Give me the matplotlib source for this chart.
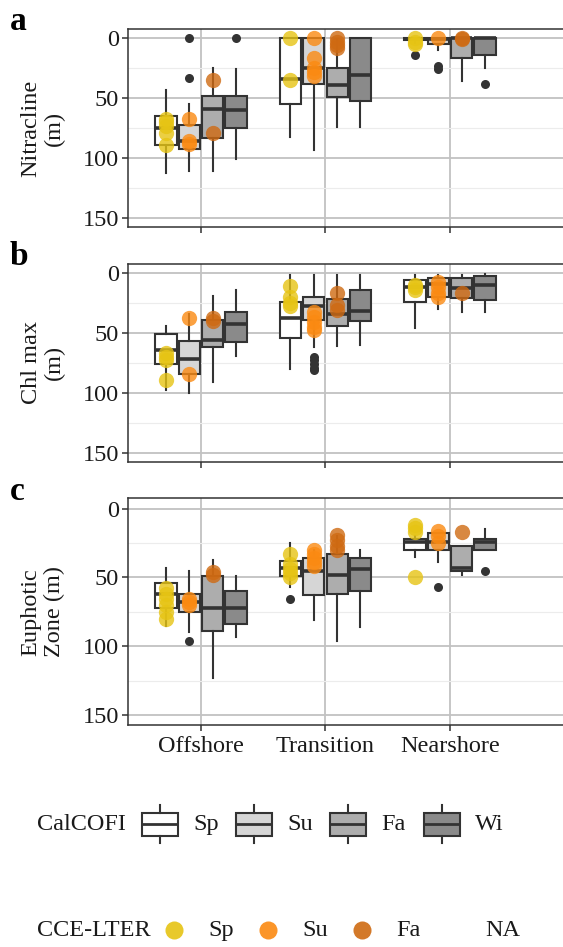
import matplotlib
matplotlib.use("Agg")
import matplotlib.pyplot as plt
from matplotlib.patches import Rectangle

plt.rcParams['font.family'] = ['Liberation Serif', 'DejaVu Serif']

# ---------------- data ----------------
zones = ["Offshore", "Transition", "Nearshore"]
seasons = ["Sp", "Su", "Fa", "Wi"]
cce_seasons = ["Sp", "Su", "Fa", "NA"]
box_fills = ["#ffffff", "#d6d6d6", "#adadad", "#8a8a8a"]
pt_colors = ["#e6c414", "#fb8a12", "#cf6a12", None]
ylabels = ["Nitracline\n(m)", "Chl max\n(m)", "Euphotic\nZone (m)"]
panel_letters = ["a", "b", "c"]

# Panel a: Nitracline  [zone][season] = (whislo, q1, med, q3, whishi)
a_box = [
    [(43, 65, 75, 89, 112), (55, 72, 86, 92, 111), (25, 48, 59, 83, 111), (26, 48, 60, 75, 101)],
    [(0, 0, 34, 55, 82), (0, 0, 25, 38, 93), (2, 25, 39, 49, 74), (0, 0, 31, 52, 74)],
    [(0, 0, 1, 2, 4), (0, 0, 1, 5, 10), (0, 0, 0, 17, 36), (0, 0, 0, 14, 25)],
]
a_fliers = [
    [[], [0, 33], [], [0]],
    [[], [], [], []],
    [[14], [23, 26], [], [38]],
]
a_pts_sp = [[67, 70, 73, 79, 89], [0, 35], [0, 3, 5]]
a_pts_su = [[67, 86, 88], [0, 17, 25, 28, 32], [0]]
a_pts_fa = [[35, 79], [0, 3, 6, 8], [0, 1]]

# Panel b: Chl max
b_box = [
    [(44, 51, 64, 76, 98), (34, 57, 72, 84, 100), (19, 39, 56, 62, 91), (14, 33, 43, 58, 69)],
    [(2, 24, 38, 54, 80), (2, 20, 28, 39, 62), (2, 22, 34, 44, 61), (2, 14, 32, 40, 60)],
    [(2, 6, 12, 24, 46), (2, 4, 9, 20, 30), (2, 4, 13, 21, 33), (1, 3, 10, 23, 33)],
]
b_fliers = [
    [[], [], [], []],
    [[], [70, 73, 76, 79, 81], [], []],
    [[], [], [], []],
]
b_pts_sp = [[67, 70, 73, 89], [11, 20, 25, 28], [10, 12, 14]]
b_pts_su = [[38, 84], [33, 37, 41, 45, 48], [8, 12, 17, 20]]
b_pts_fa = [[38, 40], [17, 27, 31], [17]]

# Panel c: Euphotic zone
c_box = [
    [(43, 54, 62, 72, 85), (45, 62, 68, 75, 90), (37, 49, 72, 89, 123), (49, 60, 72, 84, 93)],
    [(25, 38, 43, 49, 57), (30, 36, 45, 63, 81), (20, 33, 48, 62, 96), (30, 36, 44, 60, 86)],
    [(20, 22, 24, 30, 35), (18, 18, 24, 30, 39), (27, 27, 43, 45, 48), (15, 22, 24, 30, 30)],
]
c_fliers = [
    [[], [96], [], []],
    [[66], [], [], []],
    [[], [57], [], [45]],
]
c_pts_sp = [[58, 62, 66, 70, 75, 80], [33, 40, 44, 47, 50], [12, 14, 17, 50]]
c_pts_su = [[66, 68, 70], [30, 33, 36, 39, 42], [16, 20, 25]]
c_pts_fa = [[46, 48], [19, 23, 27, 30], [17]]

panels = [
    (a_box, a_fliers, [a_pts_sp, a_pts_su, a_pts_fa]),
    (b_box, b_fliers, [b_pts_sp, b_pts_su, b_pts_fa]),
    (c_box, c_fliers, [c_pts_sp, c_pts_su, c_pts_fa]),
]

# ---------------- layout ----------------
W, H = 563, 947
fig = plt.figure(figsize=(W / 100, H / 100), dpi=100)
FS = 17.5
DARK = "#333333"

panel_px = [(29.0, 227.3), (263.7, 461.7), (498.4, 725.3)]
LEFT = 127.5
UNIT = 124.5  # pixels per category


def px_axes(left, top, right, bottom):
    return fig.add_axes([left / W, 1 - bottom / H, (right - left) / W, (bottom - top) / H])


dodge = 0.75 / 4
for p, (boxes, fliers, pts) in enumerate(panels):
    top, bottom = panel_px[p]
    ax = px_axes(LEFT, top, W, bottom)

    stats, positions, fills = [], [], []
    for i in range(len(zones)):
        for j in range(len(seasons)):
            wlo, q1, med, q3, whi = boxes[i][j]
            stats.append(dict(whislo=wlo, q1=q1, med=med, q3=q3, whishi=whi,
                              fliers=fliers[i][j]))
            positions.append((i + 1) + (j - 1.5) * dodge)
            fills.append(box_fills[j])
    res = ax.bxp(stats, positions=positions, widths=0.17, patch_artist=True,
                 showfliers=True, showcaps=False, manage_ticks=False,
                 boxprops=dict(edgecolor=DARK, linewidth=1.5),
                 medianprops=dict(color=DARK, linewidth=2.6, solid_capstyle="butt"),
                 whiskerprops=dict(color=DARK, linewidth=1.5),
                 flierprops=dict(marker="o", markerfacecolor=DARK,
                                 markeredgecolor="none", markersize=6.5))
    for patch, fc in zip(res["boxes"], fills):
        patch.set_facecolor(fc)

    for j, season_pts in enumerate(pts):
        for i, vals in enumerate(season_pts):
            x = (i + 1) + (j - 1.5) * dodge
            ax.plot([x] * len(vals), vals, "o", color=pt_colors[j], alpha=0.8,
                    markersize=11, markeredgewidth=0, zorder=5)

    ax.set_xlim(0.41, 0.41 + (W - LEFT) / UNIT)
    ax.set_ylim(157.5, -7.5)
    ax.set_yticks([0, 50, 100, 150])
    ax.set_yticks([25, 75, 125], minor=True)
    ax.set_xticks([1, 2, 3])
    ax.set_xticks([], minor=True)
    ax.grid(True, which="major", color="#c2c2c2", linewidth=1.3)
    ax.grid(True, which="minor", axis="y", color="#ececec", linewidth=0.8)
    ax.set_axisbelow(True)
    for s in ["left", "top", "bottom"]:
        ax.spines[s].set_color(DARK)
        ax.spines[s].set_linewidth(1.1)
    ax.spines["right"].set_visible(False)
    ax.tick_params(which="major", length=4, width=1.1, color=DARK,
                   labelsize=FS, labelcolor="#1a1a1a", pad=2)
    ax.tick_params(axis="x", pad=4)
    ax.tick_params(which="minor", length=0)
    if p == 2:
        ax.set_xticklabels(zones)
    else:
        ax.set_xticklabels([])

    fig.text(43 / W, 1 - ((top + bottom) / 2) / H, ylabels[p], rotation=90,
             ha="center", va="center", multialignment="center", fontsize=FS,
             color="#1a1a1a", linespacing=1.15)
    fig.text(10 / W, 1 - (top - 7) / H, panel_letters[p], fontsize=24,
             fontweight="bold", ha="left", va="center")

# ---------------- legends ----------------
leg = fig.add_axes([0, 0, 1, 1])
leg.set_xlim(0, W)
leg.set_ylim(H, 0)
leg.axis("off")
leg.patch.set_alpha(0)

y1 = 824
leg.text(37, y1, "CalCOFI", fontsize=FS, ha="left", va="center", color="#1a1a1a")
for j, (lab, fc) in enumerate(zip(seasons, box_fills)):
    x0 = 142 + j * 94
    leg.add_patch(Rectangle((x0, y1 - 11.5), 36, 23, facecolor=fc, edgecolor=DARK, lw=1.5))
    leg.plot([x0, x0 + 36], [y1, y1], color=DARK, lw=2.0, solid_capstyle="butt")
    leg.plot([x0 + 18, x0 + 18], [y1 - 19, y1 - 11.5], color=DARK, lw=1.5)
    leg.plot([x0 + 18, x0 + 18], [y1 + 11.5, y1 + 19], color=DARK, lw=1.5)
    leg.text(x0 + 51, y1, lab, fontsize=FS, ha="left", va="center", color="#1a1a1a")

y2 = 930
leg.text(37, y2, "CCE-LTER", fontsize=FS, ha="left", va="center", color="#1a1a1a")
for j, (lab, col) in enumerate(zip(cce_seasons, pt_colors)):
    cx = 174 + j * 94
    if col is not None:
        leg.plot([cx], [y2], "o", color=col, alpha=0.9, markersize=13, markeredgewidth=0)
        leg.text(cx + 34, y2, lab, fontsize=FS, ha="left", va="center", color="#1a1a1a")
    else:
        leg.text(cx + 29, y2, lab, fontsize=FS, ha="left", va="center", color="#1a1a1a")

fig.savefig("out.png", dpi=100)
